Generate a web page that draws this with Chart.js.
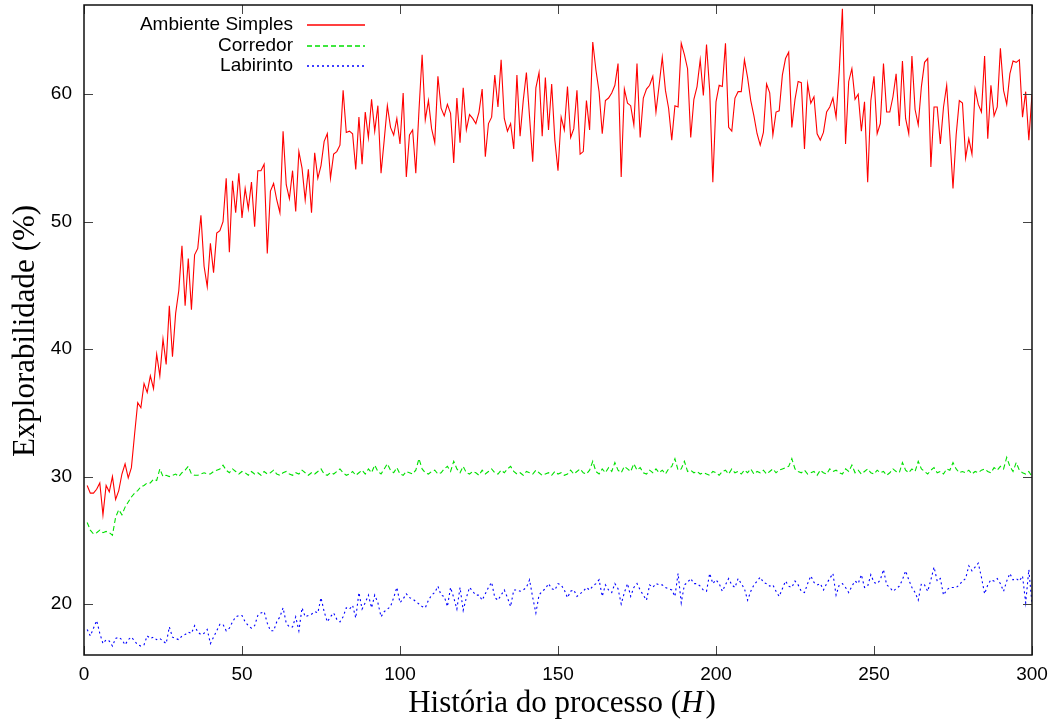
<!DOCTYPE html>
<html>
<head>
<meta charset="utf-8">
<script src="https://cdn.jsdelivr.net/npm/chart.js@4.4.1/dist/chart.umd.min.js"></script>
<style>
  html, body { margin: 0; padding: 0; background: #fff; }
  #wrap { width: 1057px; height: 720px; position: relative; }
</style>
</head>
<body>
<div id="wrap"><canvas id="grafico"></canvas></div>
<script>
// Eixo x: historia do processo (H = 1..300)
const historia = Array.from({ length: 300 }, (_, i) => i + 1);

// Explorabilidade (%)
const ambienteSimples = [
  29.3, 28.7, 28.7, 29.0, 29.5, 27.0, 29.3, 28.8, 30.0, 28.2,
  28.9, 30.2, 31.0, 29.9, 30.7, 33.3, 35.8, 35.4, 37.3, 36.6,
  37.9, 36.9, 39.6, 37.9, 40.8, 38.8, 43.4, 39.4, 42.8, 44.6,
  48.1, 43.4, 47.1, 43.1, 47.4, 47.9, 50.5, 46.5, 44.9, 48.3,
  46.0, 49.1, 49.3, 50.0, 53.4, 47.6, 53.2, 50.7, 53.8, 50.3,
  52.6, 51.0, 53.1, 49.6, 54.0, 54.0, 54.5, 47.5, 52.4, 53.0,
  51.7, 50.7, 57.1, 52.9, 51.8, 54.0, 50.8, 55.5, 54.2, 51.7,
  54.1, 50.7, 55.4, 53.4, 54.4, 56.3, 56.9, 53.4, 55.3, 55.5,
  56.0, 60.3, 57.0, 57.1, 56.9, 54.1, 58.2, 54.5, 58.6, 56.6,
  59.6, 57.1, 59.1, 53.8, 56.4, 59.1, 57.4, 56.8, 58.1, 56.1,
  60.1, 53.5, 56.8, 57.2, 53.8, 58.7, 63.1, 58.0, 59.5, 57.3,
  56.2, 61.4, 58.9, 58.3, 59.2, 58.5, 54.6, 59.7, 56.2, 60.5,
  57.2, 58.4, 58.1, 57.7, 58.6, 60.4, 55.1, 57.7, 58.2, 61.5,
  59.0, 62.7, 58.1, 57.1, 57.7, 55.7, 61.5, 56.7, 59.5, 61.7,
  58.2, 54.7, 60.5, 61.7, 56.7, 61.3, 57.2, 60.8, 56.4, 54.0,
  58.2, 57.2, 60.6, 56.6, 57.3, 60.3, 55.3, 55.5, 59.5, 57.2,
  64.1, 61.9, 60.2, 56.9, 59.5, 59.7, 60.1, 60.7, 62.4, 53.5,
  60.4, 59.3, 59.1, 57.6, 62.4, 56.6, 59.7, 60.4, 60.7, 61.4,
  58.6, 60.7, 62.9, 60.3, 58.9, 56.4, 59.1, 59.0, 64.0, 63.1,
  62.0, 56.6, 59.6, 60.6, 62.7, 59.9, 63.9, 60.3, 53.1, 59.4,
  60.7, 60.6, 64.0, 57.4, 57.1, 59.7, 60.2, 60.2, 62.7, 61.3,
  59.5, 58.3, 56.9, 56.0, 57.0, 60.8, 60.1, 56.8, 58.6, 58.7,
  61.5, 62.8, 63.3, 57.4, 59.6, 61.0, 60.9, 55.7, 60.8, 59.3,
  59.8, 56.9, 56.4, 57.0, 58.6, 59.0, 59.7, 58.2, 61.8, 66.7,
  56.1, 61.0, 62.0, 59.6, 60.0, 57.1, 59.4, 53.1, 59.5, 61.4,
  56.9, 57.7, 62.4, 58.6, 58.6, 59.8, 61.6, 57.5, 62.6, 58.1,
  56.9, 63.0, 58.8, 57.6, 60.6, 62.5, 62.8, 54.3, 59.0, 59.0,
  56.1, 59.0, 60.7, 56.8, 52.6, 56.8, 59.5, 59.3, 55.0, 56.5,
  55.3, 60.4, 59.2, 58.6, 63.0, 56.5, 60.7, 58.3, 59.0, 63.6,
  60.3, 59.2, 61.6, 62.6, 62.5, 62.7, 58.2, 60.2, 56.4, 60.0
];

const corredor = [
  26.4, 25.8, 25.5, 25.6, 25.8, 25.6, 25.7, 25.6, 25.4, 26.8,
  27.4, 27.0, 27.6, 28.0, 28.4, 28.7, 28.9, 29.2, 29.3, 29.5,
  29.5, 29.8, 29.7, 30.6, 30.0, 30.1, 30.0, 30.1, 30.2, 30.0,
  30.3, 30.5, 30.8, 30.2, 30.1, 30.1, 30.2, 30.3, 30.2, 30.2,
  30.4, 30.5, 30.6, 30.9, 30.5, 30.3, 30.6, 30.4, 30.2, 30.4,
  30.3, 30.1, 30.4, 30.2, 30.3, 30.1, 30.4, 30.2, 30.3, 30.5,
  30.2, 30.1, 30.3, 30.4, 30.2, 30.1, 30.3, 30.2, 30.5, 30.3,
  30.1, 30.3, 30.2, 30.4, 30.6, 30.2, 30.1, 30.3, 30.2, 30.4,
  30.6, 30.3, 30.1, 30.2, 30.4, 30.1, 30.3, 30.5, 30.2, 30.6,
  30.3, 30.9, 30.4, 30.2, 30.6, 31.0, 30.5, 30.3, 30.7, 30.2,
  30.1, 30.4, 30.3, 30.2, 30.5, 31.4, 30.6, 30.3, 30.2, 30.4,
  30.5, 30.2, 30.3, 30.6, 30.8, 30.4, 31.2, 30.6, 30.3, 30.8,
  30.3, 30.2, 30.4, 30.3, 30.1, 30.5, 30.2, 30.4, 30.6, 30.3,
  30.2, 30.5, 30.3, 30.6, 30.8, 30.4, 30.2, 30.3, 30.1, 30.4,
  30.3, 30.2, 30.5, 30.3, 30.1, 30.2, 30.3, 30.1, 30.4, 30.2,
  30.3, 30.1, 30.2, 30.5, 30.2, 30.4, 30.6, 30.3, 30.2, 30.5,
  31.2, 30.4, 30.2, 30.6, 30.3, 30.7, 30.4, 31.1, 30.5, 30.3,
  30.8, 30.6, 30.4, 31.0, 30.5, 30.7, 30.3, 30.2, 30.5, 30.3,
  30.6, 30.3, 30.5, 30.2, 30.6, 30.8, 31.4, 30.5, 30.6, 31.2,
  30.4, 30.5, 30.3, 30.4, 30.2, 30.3, 30.2, 30.1, 30.4, 30.3,
  30.1, 30.4, 30.5, 30.2, 30.6, 30.3, 30.4, 30.2, 30.5, 30.3,
  30.6, 30.2, 30.4, 30.3, 30.5, 30.2, 30.4, 30.6, 30.3, 30.5,
  30.6, 30.7, 30.8, 31.4, 30.6, 30.4, 30.3, 30.5, 30.2, 30.3,
  30.4, 30.1, 30.5, 30.3, 30.2, 30.6, 30.4, 30.5, 30.3, 30.2,
  30.6, 30.4, 30.9, 30.3, 30.5, 30.2, 30.4, 30.6, 30.3, 30.2,
  30.5, 30.3, 30.4, 30.1, 30.3, 30.6, 30.4, 30.3, 31.1, 30.5,
  30.3, 30.6, 30.4, 31.2, 30.6, 30.4, 30.2, 30.5, 30.7, 30.3,
  30.4, 30.2, 30.6, 30.5, 31.1, 30.6, 30.3, 30.4, 30.3, 30.5,
  30.2, 30.4, 30.3, 30.5, 30.6, 30.4, 30.3, 30.7, 30.5, 30.8,
  30.6, 31.5, 30.8, 30.4, 31.1, 30.5, 30.3, 30.2, 30.4, 30.0
];

const labirinto = [
  18.0, 17.5, 18.1, 18.7, 17.7, 16.9, 17.2, 17.1, 16.7, 17.3,
  17.4, 17.2, 16.8, 17.2, 17.4, 17.1, 16.8, 16.7, 16.8, 17.5,
  17.3, 17.4, 17.2, 17.3, 17.1, 16.9, 18.2, 17.4, 17.3, 17.2,
  17.5, 17.6, 17.8, 17.7, 18.3, 17.8, 17.6, 17.7, 18.0, 16.9,
  17.4, 17.9, 18.4, 18.4, 17.9, 18.1, 18.6, 19.0, 19.1, 19.1,
  18.6, 18.3, 18.1, 18.3, 19.1, 19.3, 19.4, 18.5, 17.9, 17.9,
  18.6, 19.0, 19.7, 18.5, 18.2, 18.2, 19.0, 17.9, 19.7, 19.0,
  19.1, 19.2, 19.4, 19.3, 20.5, 19.4, 18.6, 19.0, 19.3, 18.8,
  18.6, 19.0, 19.7, 19.6, 19.9, 18.9, 20.9, 19.6, 20.1, 20.7,
  19.7, 20.7, 20.1, 19.0, 19.4, 19.6, 19.8, 20.5, 21.3, 20.1,
  20.4, 20.8, 20.5, 20.4, 20.2, 20.0, 19.8, 19.7, 20.3, 20.7,
  20.9, 21.4, 20.7, 20.6, 19.8, 21.3, 20.5, 19.6, 21.3, 19.5,
  20.5, 21.3, 21.0, 20.7, 20.7, 20.3, 20.8, 21.3, 21.7, 20.5,
  20.3, 20.7, 21.1, 20.5, 19.8, 21.1, 21.1, 21.0, 21.1, 21.3,
  21.9, 20.5, 19.3, 20.7, 21.0, 21.2, 21.6, 21.2, 21.1, 21.6,
  21.5, 21.1, 20.5, 21.0, 21.1, 20.6, 20.8, 21.0, 21.3, 21.1,
  21.4, 21.6, 21.9, 20.6, 21.5, 21.1, 20.9, 21.6, 21.2, 20.0,
  20.9, 21.6, 20.6, 21.3, 21.6, 21.1, 20.7, 20.3, 21.5, 21.3,
  21.6, 21.5, 21.5, 21.3, 21.2, 21.1, 20.6, 22.4, 20.1, 21.5,
  21.7, 22.0, 21.6, 21.6, 21.4, 21.1, 21.0, 22.4, 21.6, 21.9,
  21.6, 21.0, 21.5, 22.0, 21.5, 21.3, 22.0, 21.6, 21.2, 20.3,
  21.0, 21.5, 21.8, 22.1, 21.7, 21.6, 21.4, 21.5, 21.0, 20.6,
  21.2, 21.8, 21.4, 21.3, 21.8, 21.5, 21.0, 20.9, 21.6, 22.2,
  21.7, 21.5, 21.6, 21.1, 21.6, 22.0, 22.4, 20.7, 21.5, 21.6,
  21.3, 20.9, 21.4, 21.8, 21.6, 22.3, 21.3, 21.4, 22.3, 21.7,
  21.6, 21.9, 22.7, 21.5, 21.3, 21.0, 21.2, 21.4, 21.9, 22.6,
  21.9, 21.3, 20.9, 20.3, 21.6, 21.5, 21.0, 21.9, 22.9, 21.8,
  22.0, 20.7, 21.1, 21.3, 21.3, 21.3, 21.5, 21.8, 22.0, 23.0,
  22.6, 22.9, 23.2, 22.1, 20.8, 21.5, 21.9, 21.8, 22.0, 21.6,
  21.0, 21.8, 22.4, 21.9, 22.0, 21.8, 22.2, 20.1, 22.7, 20.0
];

const xTicks = [0, 50, 100, 150, 200, 250, 300];
const yTicks = [20, 30, 40, 50, 60];

const FONTE = '"Liberation Sans", Arial, sans-serif';
const SERIFA = '"Liberation Serif", "Times New Roman", serif';
const CORES = { simples: '#ff0000', corredor: '#00e000', labirinto: '#0000ff' };

// Moldura estilo gnuplot: borda, marcas para dentro, legenda e titulos
const molduraGnuplot = {
  id: 'molduraGnuplot',
  afterDatasetsDraw(chart) {
    const { ctx, chartArea: a, scales: { x, y } } = chart;
    ctx.save();

    ctx.strokeStyle = '#444';
    ctx.lineWidth = 1;
    ctx.beginPath();
    xTicks.forEach(v => {
      const px = Math.round(x.getPixelForValue(v)) + 0.5;
      ctx.moveTo(px, a.bottom); ctx.lineTo(px, a.bottom - 9);
      ctx.moveTo(px, a.top); ctx.lineTo(px, a.top + 9);
    });
    yTicks.forEach(v => {
      const py = Math.round(y.getPixelForValue(v)) + 0.5;
      ctx.moveTo(a.left, py); ctx.lineTo(a.left + 9, py);
      ctx.moveTo(a.right, py); ctx.lineTo(a.right - 9, py);
    });
    ctx.stroke();

    ctx.strokeStyle = '#111';
    ctx.lineWidth = 1.5;
    ctx.strokeRect(a.left, a.top, a.width, a.height);

    // legenda
    const amostras = [
      { cor: CORES.simples, traco: [] },
      { cor: CORES.corredor, traco: [5, 3] },
      { cor: CORES.labirinto, traco: [2, 3] }
    ];
    ctx.font = '19px ' + FONTE;
    ctx.textAlign = 'right';
    ctx.textBaseline = 'middle';
    chart.data.datasets.forEach((ds, i) => {
      const ly = Math.round(25 + i * 20.5);
      ctx.fillStyle = '#000';
      ctx.fillText(ds.label, 293, ly);
      ctx.strokeStyle = amostras[i].cor;
      ctx.lineWidth = 1.6;
      ctx.setLineDash(amostras[i].traco);
      ctx.beginPath();
      ctx.moveTo(307, ly);
      ctx.lineTo(365, ly);
      ctx.stroke();
    });
    ctx.setLineDash([]);

    // titulo do eixo x com H em italico
    ctx.fillStyle = '#000';
    ctx.textBaseline = 'alphabetic';
    ctx.textAlign = 'left';
    const t1 = 'História do processo (', t2 = 'H', t3 = ')';
    ctx.font = '31px ' + SERIFA;
    const w1 = ctx.measureText(t1).width, w3 = ctx.measureText(t3).width;
    ctx.font = 'italic 31px ' + SERIFA;
    const w2 = ctx.measureText(t2).width + 2;
    const sx = 562 - (w1 + w2 + w3) / 2;
    ctx.font = '31px ' + SERIFA;
    ctx.fillText(t1, sx, 712);
    ctx.font = 'italic 31px ' + SERIFA;
    ctx.fillText(t2, sx + w1, 712);
    ctx.font = '31px ' + SERIFA;
    ctx.fillText(t3, sx + w1 + w2, 712);

    // titulo do eixo y
    ctx.translate(26, 331);
    ctx.rotate(-Math.PI / 2);
    ctx.textAlign = 'center';
    ctx.textBaseline = 'middle';
    ctx.font = '31px ' + SERIFA;
    ctx.fillText('Explorabilidade (%)', 0, 0);

    ctx.restore();
  }
};

const ctx = document.getElementById('grafico').getContext('2d');

new Chart(ctx, {
  type: 'line',
  data: {
    labels: historia,
    datasets: [
      {
        label: 'Ambiente Simples',
        data: ambienteSimples,
        borderColor: CORES.simples,
        borderWidth: 1.1
      },
      {
        label: 'Corredor',
        data: corredor,
        borderColor: CORES.corredor,
        borderWidth: 1.1,
        borderDash: [5, 3]
      },
      {
        label: 'Labirinto',
        data: labirinto,
        borderColor: CORES.labirinto,
        borderWidth: 1.1,
        borderDash: [2, 3]
      }
    ]
  },
  options: {
    responsive: true,
    maintainAspectRatio: false,
    animation: false,
    elements: {
      point: { radius: 0 },
      line: { tension: 0 }
    },
    layout: {
      padding: { top: 5, right: 25, left: 0, bottom: 0 }
    },
    plugins: {
      legend: { display: false },
      tooltip: { enabled: false }
    },
    scales: {
      x: {
        type: 'linear',
        min: 0,
        max: 300,
        grid: { display: false, drawTicks: false },
        border: { display: false },
        afterBuildTicks: axis => { axis.ticks = xTicks.map(v => ({ value: v })); },
        afterFit: axis => {
          axis.height = 65;
          axis.paddingLeft = 0;
          axis.paddingRight = 0;
        },
        ticks: {
          color: '#000',
          padding: 8,
          maxRotation: 0,
          font: { family: FONTE, size: 19 }
        }
      },
      y: {
        min: 16,
        max: 67,
        grid: { display: false, drawTicks: false },
        border: { display: false },
        afterBuildTicks: axis => { axis.ticks = yTicks.map(v => ({ value: v })); },
        afterFit: axis => {
          axis.width = 84;
          axis.paddingTop = 0;
          axis.paddingBottom = 0;
        },
        ticks: {
          color: '#000',
          padding: 12,
          font: { family: FONTE, size: 19 }
        }
      }
    }
  },
  plugins: [molduraGnuplot]
});
</script>
</body>
</html>
